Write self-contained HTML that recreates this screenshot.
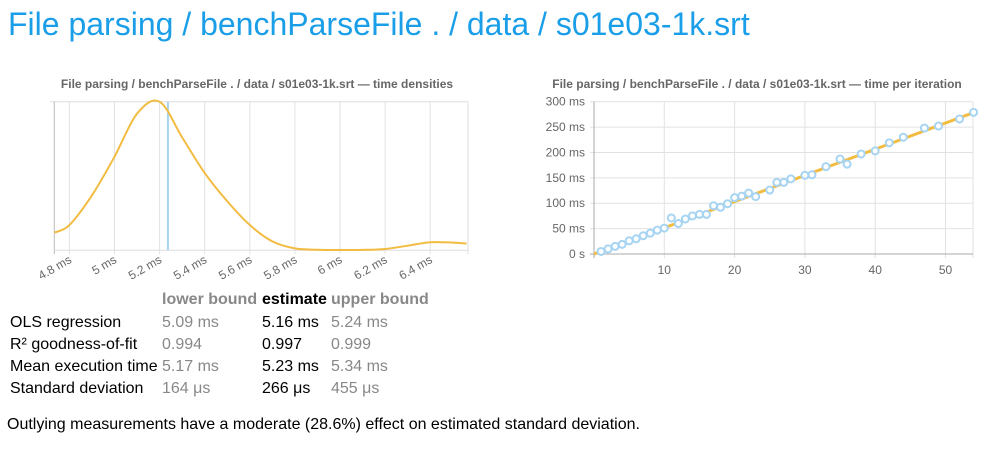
<!DOCTYPE html>
<html><head><meta charset="utf-8"><style>
body{margin:0;width:992px;height:450px;background:#fff;font-family:"Liberation Sans",sans-serif;position:relative;overflow:hidden}
h1{position:absolute;left:8px;top:6px;margin:0;font-size:32px;font-weight:normal;color:#1a9ee8}
.t{font-size:16px;position:absolute;white-space:nowrap}
.g{color:#888}.hd{font-weight:bold}
svg text{font-family:"Liberation Sans",sans-serif}
</style></head><body>
<h1>File parsing / benchParseFile . / data / s01e03-1k.srt</h1>
<svg width="992" height="300" style="position:absolute;left:0;top:0">
<g id="left"></g>
<g id="right"></g>
</svg>
<div>
<div class="t g hd" style="left:162px;top:291px">lower bound</div>
<div class="t hd" style="left:262px;top:291px">estimate</div>
<div class="t g hd" style="left:331px;top:291px">upper bound</div>

<div class="t" style="left:10px;top:314px">OLS regression</div>
<div class="t g" style="left:162px;top:314px">5.09 ms</div>
<div class="t" style="left:262px;top:314px">5.16 ms</div>
<div class="t g" style="left:331px;top:314px">5.24 ms</div>

<div class="t" style="left:10px;top:336px">R² goodness-of-fit</div>
<div class="t g" style="left:162px;top:336px">0.994</div>
<div class="t" style="left:262px;top:336px">0.997</div>
<div class="t g" style="left:331px;top:336px">0.999</div>

<div class="t" style="left:10px;top:358px">Mean execution time</div>
<div class="t g" style="left:162px;top:358px">5.17 ms</div>
<div class="t" style="left:262px;top:358px">5.23 ms</div>
<div class="t g" style="left:331px;top:358px">5.34 ms</div>

<div class="t" style="left:10px;top:380px">Standard deviation</div>
<div class="t g" style="left:162px;top:380px">164 μs</div>
<div class="t" style="left:262px;top:380px">266 μs</div>
<div class="t g" style="left:331px;top:380px">455 μs</div>
</div>
<div class="t" style="left:7px;top:416px">Outlying measurements have a moderate (28.6%) effect on estimated standard deviation.</div>
<script>
const densX=[4.733,4.8,4.9,5.0,5.1,5.2,5.3,5.4,5.5,5.6,5.7,5.8,5.9,6.0,6.1,6.2,6.3,6.4,6.5,6.561];
const densY=[0.119,0.17,0.37,0.63,0.92,1.0,0.76,0.52,0.33,0.17,0.06,0.013,0.004,0.002,0.003,0.009,0.031,0.054,0.052,0.045];
const densTicks=[4.8,5.0,5.2,5.4,5.6,5.8,6.0,6.2,6.4];
const densTickLabels=["4.8 ms","5 ms","5.2 ms","5.4 ms","5.6 ms","5.8 ms","6 ms","6.2 ms","6.4 ms"];
const meanEstimate=[5.237];
const iterX=[1,2,3,4,5,6,7,8,9,10,11,12,13,14,15,16,17,18,19,20,21,22,23,25,26,27,28,30,31,33,35,36,38,40,42,44,47,49,52,54];
const iterY=[5,10,15,19,26,30,36,41,47,51,71,60,69,75,78,78,95,92,99,111,114,120,113,126,141,141,148,155,156,172,187,177,197,203,219,230,248,252,266,279];
const slope=[5.16];
const iterYTicks=[0,50,100,150,200,250,300];
const iterYLabels=["0 s","50 ms","100 ms","150 ms","200 ms","250 ms","300 ms"];
const iterXTicks=[10,20,30,40,50];

const NS="http://www.w3.org/2000/svg";
function mk(p,tag,a){const e=document.createElementNS(NS,tag);for(const k in a)e.setAttribute(k,a[k]);p.appendChild(e);return e;}

const L=document.getElementById('left');
const lx=v=>54.3+(v-4.733)*225.5, ly=v=>250.3-v*148.6;
let t=mk(L,'text',{x:257,y:88,'text-anchor':'middle','font-size':12,'font-weight':'bold',fill:'#666'});

t.textContent="File parsing / benchParseFile . / data / s01e03-1k.srt — time densities";
mk(L,'line',{x1:50,x2:468,y1:101.7,y2:101.7,stroke:'#ddd'});
mk(L,'line',{x1:468,x2:468,y1:101.7,y2:254,stroke:'#ddd'});
densTicks.forEach((v,i)=>{
  const g=mk(L,'line',{x1:lx(v),x2:lx(v),y1:101.7,y2:254,stroke:'#e2e2e2'});
  
  const tx=mk(L,'text',{x:lx(v)+3,y:262,'text-anchor':'end','font-size':12,fill:'#666',transform:`rotate(-30 ${lx(v)+3} 262)`});
  
  tx.textContent=densTickLabels[i];
});
mk(L,'line',{x1:54.3,x2:54.3,y1:101.7,y2:254,stroke:'#bbb'});
mk(L,'line',{x1:54.3,x2:468,y1:250.3,y2:250.3,stroke:'#ddd'});
const ml=mk(L,'line',{x1:lx(meanEstimate[0]),x2:lx(meanEstimate[0]),y1:101.7,y2:250.3,stroke:'#a6d4f2','stroke-width':2});

const P=densX.map((v,i)=>[lx(v),ly(densY[i])]);
let d=`M${P[0][0]},${P[0][1]}`;
for(let i=0;i<P.length-1;i++){const p0=P[i-1]||P[i],p1=P[i],p2=P[i+1],p3=P[i+2]||p2;
 d+=` C${p1[0]+(p2[0]-p0[0])/6},${p1[1]+(p2[1]-p0[1])/6} ${p2[0]-(p3[0]-p1[0])/6},${p2[1]-(p3[1]-p1[1])/6} ${p2[0]},${p2[1]}`;}
const dc=mk(L,'path',{d:d,fill:'none',stroke:'#f2bc42','stroke-width':2});


const R=document.getElementById('right');
const rx=v=>594+v*7.03, ry=v=>254-v*0.5077;
t=mk(R,'text',{x:757,y:88,'text-anchor':'middle','font-size':12,'font-weight':'bold',fill:'#666'});

t.textContent="File parsing / benchParseFile . / data / s01e03-1k.srt — time per iteration";
iterYTicks.forEach((v,i)=>{
  mk(R,'line',{x1:590,x2:973,y1:ry(v),y2:ry(v),stroke:'#e2e2e2'});
  const tx=mk(R,'text',{x:585,y:ry(v)+4,'text-anchor':'end','font-size':12,fill:'#666'});
  
  tx.textContent=iterYLabels[i];
});
iterXTicks.forEach(v=>{
  mk(R,'line',{x1:rx(v),x2:rx(v),y1:101.7,y2:258,stroke:'#e2e2e2'});
  const tx=mk(R,'text',{x:rx(v),y:274,'text-anchor':'middle','font-size':12,fill:'#666'});
  
  tx.textContent=v;
});
mk(R,'line',{x1:973,x2:973,y1:101.7,y2:258,stroke:'#e2e2e2'});
mk(R,'line',{x1:594,x2:594,y1:101.7,y2:258,stroke:'#aaa'});
mk(R,'line',{x1:590,x2:973,y1:254,y2:254,stroke:'#aaa'});
const xmax=54;
const rl=mk(R,'line',{x1:rx(0),y1:ry(0),x2:rx(xmax),y2:ry(slope[0]*xmax),stroke:'#f2bc42','stroke-width':3});

iterX.forEach((v,i)=>{
  const c=mk(R,'circle',{cx:rx(v),cy:ry(iterY[i]),r:3.5,fill:'#fff',stroke:'#a6d4f2','stroke-width':2});
  
});
</script>
</body></html>
